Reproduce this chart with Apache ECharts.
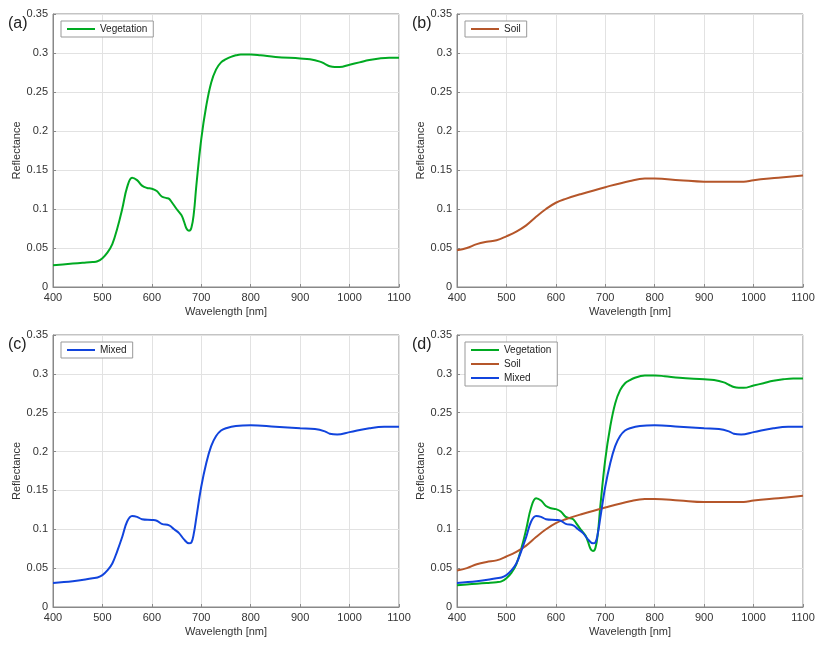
<!DOCTYPE html><html><head><meta charset="utf-8"><script src="https://cdn.jsdelivr.net/npm/echarts@6/dist/echarts.min.js"></script></head><body style="margin:0"><div id="c" style="width:827px;height:651px"></div><script>
const vegX=[400,420,440,460,480,490,500,510,520,530,540,550,560,570,580,590,600,610,620,630,635,640,650,660,665,670,675,680,685,690,700,710,720,730,740,750,760,770,780,800,820,850,900,920,940,950,960,970,980,1000,1020,1040,1060,1080,1100];
const vegY=[0.028,0.029,0.030,0.031,0.032,0.033,0.037,0.044,0.055,0.075,0.100,0.128,0.140,0.137,0.130,0.127,0.126,0.123,0.116,0.114,0.113,0.109,0.100,0.092,0.084,0.075,0.072,0.076,0.095,0.130,0.190,0.232,0.262,0.279,0.288,0.292,0.295,0.297,0.298,0.298,0.297,0.295,0.293,0.292,0.289,0.286,0.283,0.282,0.282,0.285,0.288,0.291,0.293,0.294,0.294];
const soilX=[400,420,440,460,480,500,520,540,560,580,600,620,650,700,750,780,800,850,900,950,980,1000,1050,1100];
const soilY=[0.047,0.050,0.055,0.058,0.060,0.065,0.071,0.079,0.090,0.100,0.108,0.113,0.119,0.128,0.136,0.139,0.139,0.137,0.135,0.135,0.135,0.137,0.140,0.143];
const mixX=[400,440,480,490,500,510,520,530,540,550,560,570,580,600,610,620,635,645,655,665,675,680,685,690,700,710,720,730,740,750,770,800,850,900,930,950,960,975,1000,1040,1070,1100];
const mixY=[0.031,0.033,0.037,0.038,0.041,0.047,0.056,0.072,0.090,0.110,0.117,0.116,0.113,0.112,0.111,0.107,0.105,0.100,0.095,0.087,0.082,0.083,0.095,0.115,0.155,0.185,0.207,0.220,0.227,0.230,0.233,0.234,0.232,0.230,0.229,0.226,0.223,0.222,0.225,0.230,0.232,0.232];
const xTicks=[400,500,600,700,800,900,1000,1100];
const panels=['(a)','(b)','(c)','(d)'];
const C={Vegetation:'#00aa22',Soil:'#b5562a',Mixed:'#1144dd'};
const pair=(x,y)=>x.map((v,i)=>[v,y[i]]);
const D={Vegetation:pair(vegX,vegY),Soil:pair(soilX,soilY),Mixed:pair(mixX,mixY)};
const grids=[{left:53,top:14,width:346,height:273},{left:457,top:14,width:346,height:273},{left:53,top:335,width:346,height:272},{left:457,top:335,width:346,height:272}];
const names=[['Vegetation'],['Soil'],['Mixed'],['Vegetation','Soil','Mixed']];
const lab={color:'#333',fontSize:11,fontFamily:'Arial'};
const opt={animation:false,grid:grids.map(g=>Object.assign({show:true,borderColor:'#888',borderWidth:1},g)),xAxis:[],yAxis:[],series:[],legend:[],graphic:[]};
grids.forEach((g,i)=>{
 opt.xAxis.push({type:'value',gridIndex:i,min:400,max:1100,interval:100,name:'Wavelength [nm]',nameLocation:'middle',nameGap:19,nameTextStyle:{fontSize:11,color:'#333',fontFamily:'Arial'},axisLabel:Object.assign({margin:5,formatter:v=>String(v)},lab),axisLine:{lineStyle:{color:'#888'}},axisTick:{inside:true,length:3,lineStyle:{color:'#888'}},splitLine:{lineStyle:{color:'#e2e2e2'}}});
 opt.yAxis.push({type:'value',gridIndex:i,min:0,max:0.35,interval:0.05,name:'Reflectance',nameLocation:'middle',nameGap:30,nameTextStyle:{fontSize:11,color:'#333',fontFamily:'Arial'},axisLabel:Object.assign({margin:5,formatter:v=>String(+v.toFixed(2))},lab),axisLine:{show:true,lineStyle:{color:'#888'}},axisTick:{show:true,inside:true,length:3,lineStyle:{color:'#888'}},splitLine:{lineStyle:{color:'#e2e2e2'}}});
 names[i].forEach(n=>opt.series.push({type:'line',name:n,xAxisIndex:i,yAxisIndex:i,data:D[n],smooth:0.4,showSymbol:false,lineStyle:{width:2,color:C[n]},itemStyle:{color:C[n]}}));
 opt.legend.push({data:names[i],left:g.left+8,top:g.top+7,orient:'vertical',itemWidth:28,itemHeight:2,itemGap:4,icon:'rect',backgroundColor:'#fff',borderColor:'#999',borderWidth:1,borderRadius:0,padding:[3,6],textStyle:{fontSize:10,color:'#222',fontFamily:'Arial'}});
 opt.graphic.push({type:'text',left:g.left-45,top:g.top+2,style:{text:panels[i],fontSize:16,fill:'#222',fontFamily:'Arial'}});
});
echarts.init(document.getElementById('c')).setOption(opt);
</script></body></html>
